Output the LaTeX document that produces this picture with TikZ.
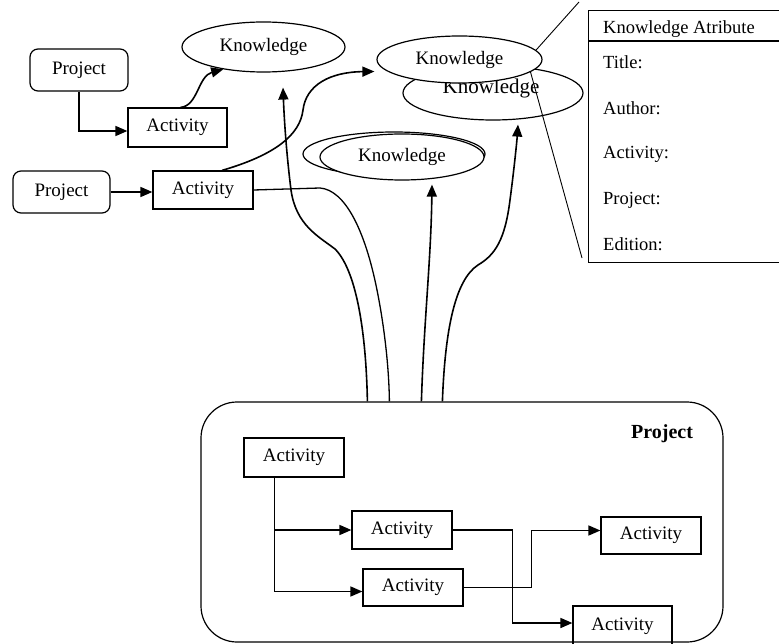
\documentclass[tikz,border=0pt]{standalone}
\usepackage{fontspec}
\setmainfont{Liberation Serif}
\usetikzlibrary{arrows.meta,shapes.geometric,calc}
\begin{document}
\begin{tikzpicture}[x=1pt,y=-1pt,
  every node/.style={font=\fontsize{19}{21}\selectfont, inner sep=0pt},
  actbox/.style={draw, line width=1.2pt, minimum width=100, minimum height=38},
  projbox/.style={draw, rounded corners=8pt, line width=1.2pt, minimum width=98, minimum height=42},
  kell/.style={draw, ellipse, line width=1.2pt, fill=white},
  flow/.style={line width=1.6pt, -{Triangle[length=12pt,width=10pt]}},
  link/.style={line width=1.3pt},
  thinline/.style={line width=0.9pt},
  attrtext/.style={anchor=west, font=\fontsize{18.5}{20}\selectfont}]

\useasboundingbox (0,0) rectangle (779,644);
\clip (0,0) rectangle (779,644);

% --- small projects on the left ---
\node[projbox] (p1) at (79,70) {Project};
\node[actbox, minimum height=39, minimum width=99] (a1) at (177.5,127.5) {Activity};
\node[projbox, minimum width=97] (p2) at (61.5,192) {Project};
\node[actbox] (a2) at (203,190) {Activity};

% --- knowledge items ---
\node[kell, minimum width=163, minimum height=50] (k1) at (263.5,47) {Knowledge};

\node[kell, minimum width=182, minimum height=44] (k4b) at (394,154) {};
\node[kell, minimum width=164, minimum height=46] (k4) at (402,157) {Knowledge};

\node[kell, minimum width=180, minimum height=54] (k3) at (493,93) {};
\node[font=\fontsize{21}{23}\selectfont] (k3text) at (491,88) {Knowledge};
\node[kell, minimum width=165, minimum height=47] (k2) at (459.5,59.5) {Knowledge};

% --- attribute card ---
\node[draw, line width=1.2pt, anchor=north west, minimum width=220, minimum height=252] (attr) at (588,10) {};
\draw[line width=1.2pt] ($(attr.north west)+(0,31)$) -- ($(attr.north east)+(0,31)$);
\node[attrtext] (ah) at (603,29) {Knowledge Atribute};
\node[attrtext] (at1) at (603,62) {Title:};
\node[attrtext] (at2) at (603,108) {Author:};
\node[attrtext] (at3) at (603,154) {Activity:};
\node[attrtext] (at4) at (603,200) {Project:};
\node[attrtext] (at5) at (603,244) {Edition:};

\coordinate (c1) at (579,2);
\coordinate (c2) at (582,258);
\draw[thinline] (k2.7) -- (c1);
\draw[thinline] (k2.-10) -- (c2);

% --- main project with its activities ---
\node[draw, line width=1.2pt, rounded corners=36pt, minimum width=522, minimum height=240] (proj) at (462,522) {};
\node[font=\fontsize{20}{22}\selectfont\bfseries] (plabel) at (662,434) {Project};

\node[actbox, minimum height=39] (A) at (294,457.5) {Activity};
\node[actbox] (B) at (402,530) {Activity};
\node[actbox, minimum height=37] (C) at (413,587.5) {Activity};
\node[actbox, minimum height=37] (D) at (651,535.5) {Activity};
\node[actbox, minimum width=99, minimum height=40] (E) at (622.5,626) {Activity};

\draw[flow] ($(A.south west)+(31,0)$) |- (B.west);
\draw[flow] ($(A.south west)+(31,0)$) |- ([yshift=-4pt]C.west);
\draw[flow] (B.east) -- ++(60,0) |- ([yshift=3pt]E.west);
\draw[flow] (C.east) -- ++(68,0) |- ([yshift=5pt]D.west);

% --- connectors of the small projects ---
\draw[flow] (p1.south) |- ([yshift=-3.5pt]a1.west);
\draw[flow] (p2.east) -- (p2.east -| a2.west);
\draw[flow] ([xshift=3pt]a1.north) .. controls (198,106) and (198,76) .. (k1.209);
\draw[flow] ([xshift=19pt]a2.north) .. controls (275,155) and (300,135) .. (303,110)
  .. controls (306,85) and (330,72) .. ([xshift=-2pt,yshift=-12pt]k2.west);

% --- links between the main project and the knowledge items ---
\coordinate (t1) at ($(proj.north west)+(167,0)$);
\coordinate (t2) at ($(proj.north west)+(189,0)$);
\coordinate (t3) at ($(proj.north west)+(221,0)$);
\coordinate (t4) at ($(proj.north west)+(242,0)$);

\draw[flow] (t1) .. controls (366,330) and (356,270) .. (335,249)
  .. controls (318,236) and (296,225) .. (291,190)
  .. controls (286,150) and (284,115) .. ($(k1.south)+(19.5,15)$);
\draw[link] (a2.east) -- (320,188) .. controls (345,190) and (365,230) .. (377,290)
  .. controls (385,330) and (389,370) .. (t2);
\draw[flow] (t3) .. controls (424,320) and (431,260) .. ($(k4.south)+(30,4)$);
\draw[flow] (t4) .. controls (445,330) and (455,280) .. (478,265)
  .. controls (495,255) and (505,240) .. (510,200)
  .. controls (514,170) and (517,140) .. ($(k3.south)+(25,4)$);
\end{tikzpicture}
\end{document}
